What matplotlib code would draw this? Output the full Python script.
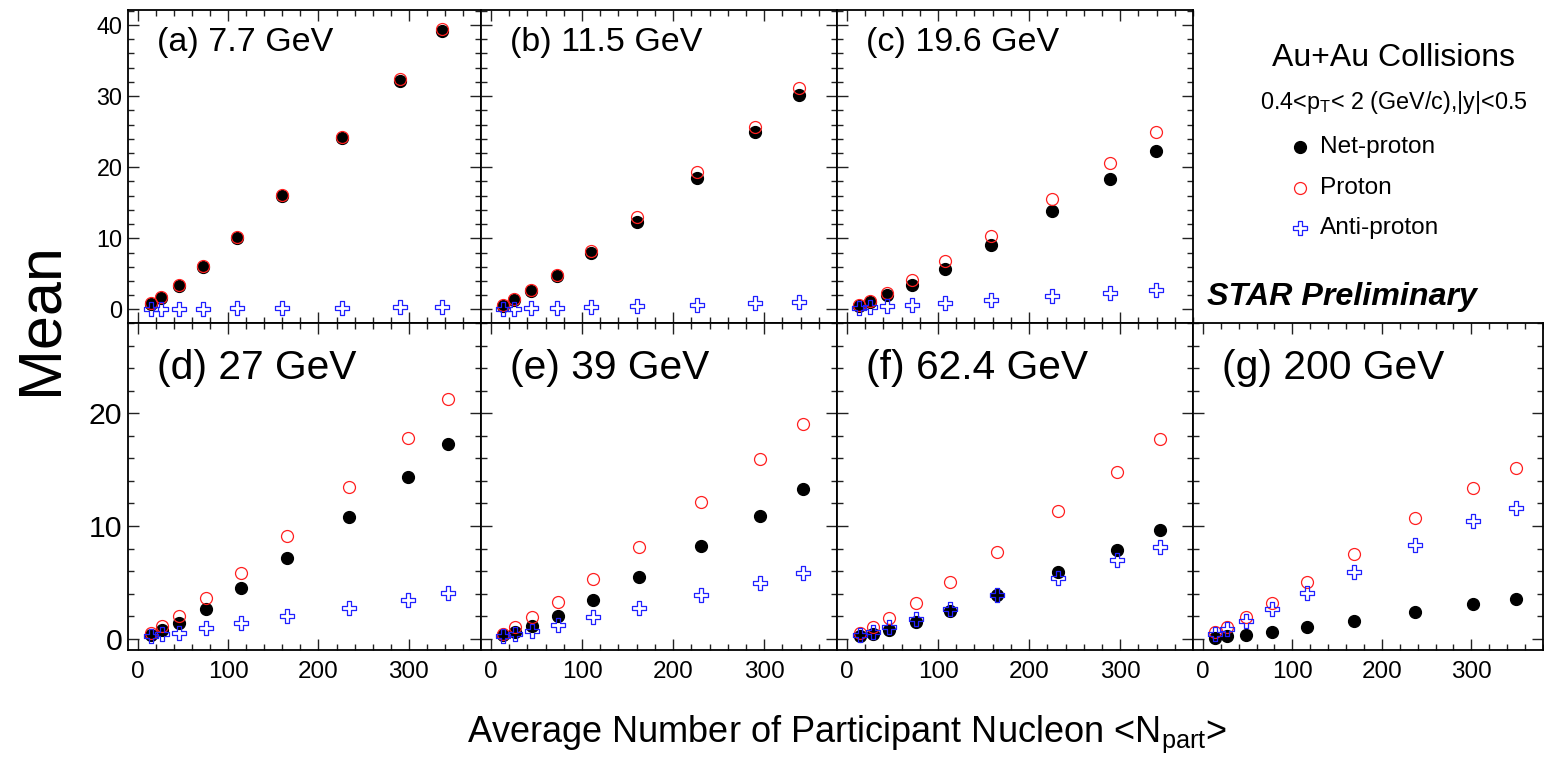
import matplotlib
matplotlib.use("Agg")
import matplotlib.pyplot as plt
from matplotlib.path import Path
from matplotlib.ticker import MultipleLocator

plt.rcParams["font.family"] = ["Liberation Sans", "DejaVu Sans"]
plt.rcParams["mathtext.fontset"] = "custom"
plt.rcParams["mathtext.rm"] = "Liberation Sans"
plt.rcParams["mathtext.it"] = "Liberation Sans:italic"

# data
labels = ["(a) 7.7 GeV", "(b) 11.5 GeV", "(c) 19.6 GeV", "(d) 27 GeV",
          "(e) 39 GeV", "(f) 62.4 GeV", "(g) 200 GeV"]

npart = [
    [14, 26, 45, 72, 110, 160, 226, 290, 337],
    [13, 25, 44, 72, 110, 160, 226, 290, 338],
    [13, 25, 44, 71, 108, 158, 225, 289, 339],
    [14, 27, 46, 75, 114, 165, 234, 299, 343],
    [13, 26, 45, 74, 112, 163, 231, 295, 343],
    [14, 28, 46, 76, 113, 165, 232, 297, 344],
    [14, 27, 48, 77, 116, 169, 237, 302, 350],
]
net_proton = [
    [0.75, 1.6, 3.27, 6.0, 10.1, 16.0, 24.1, 32.1, 39.1],
    [0.56, 1.36, 2.57, 4.67, 7.9, 12.3, 18.5, 24.9, 30.2],
    [0.42, 1.0, 2.0, 3.46, 5.75, 9.0, 13.8, 18.3, 22.3],
    [0.35, 0.75, 1.42, 2.66, 4.5, 7.16, 10.8, 14.3, 17.3],
    [0.3, 0.62, 1.15, 2.04, 3.4, 5.44, 8.2, 10.9, 13.3],
    [0.27, 0.44, 0.8, 1.45, 2.43, 3.9, 5.95, 7.9, 9.6],
    [0.1, 0.2, 0.36, 0.6, 1.05, 1.6, 2.37, 3.08, 3.55],
]
proton = [
    [0.85, 1.7, 3.4, 6.1, 10.2, 16.1, 24.3, 32.35, 39.4],
    [0.65, 1.5, 2.76, 4.85, 8.2, 13.0, 19.3, 25.7, 31.2],
    [0.6, 1.25, 2.38, 4.1, 6.75, 10.4, 15.5, 20.6, 25.0],
    [0.5, 1.1, 2.04, 3.6, 5.86, 9.1, 13.46, 17.8, 21.3],
    [0.44, 1.0, 1.92, 3.25, 5.3, 8.1, 12.1, 15.9, 19.05],
    [0.55, 1.0, 1.8, 3.2, 5.0, 7.7, 11.3, 14.8, 17.7],
    [0.6, 1.07, 1.9, 3.2, 5.05, 7.55, 10.7, 13.4, 15.1],
]
anti_proton = [
    [0.03, 0.05, 0.08, 0.12, 0.16, 0.2, 0.25, 0.3, 0.35],
    [0.08, 0.12, 0.17, 0.22, 0.32, 0.5, 0.7, 0.85, 1.03],
    [0.18, 0.3, 0.42, 0.6, 0.98, 1.36, 1.9, 2.3, 2.75],
    [0.2, 0.4, 0.55, 0.95, 1.36, 1.98, 2.75, 3.46, 4.02],
    [0.22, 0.42, 0.7, 1.24, 1.92, 2.75, 3.88, 4.94, 5.83],
    [0.3, 0.58, 1.0, 1.75, 2.6, 3.85, 5.35, 6.95, 8.1],
    [0.45, 0.86, 1.6, 2.65, 4.05, 5.95, 8.35, 10.4, 11.6],
]

# open cross marker (ROOT style 28)
w = 0.35
cross_verts = [(-w, -1), (w, -1), (w, -w), (1, -w), (1, w), (w, w), (w, 1),
               (-w, 1), (-w, w), (-1, w), (-1, -w), (-w, -w), (-w, -1)]
open_cross = Path(cross_verts, closed=True)

W, H = 1544, 765
fig = plt.figure(figsize=(W / 100, H / 100), dpi=100)

# panel edges in pixels
cols = [(128, 481), (481, 837), (837, 1193), (1193, 1543)]
rows = [(10, 323), (323, 650)]
slots = [(0, 0), (0, 1), (0, 2), (1, 0), (1, 1), (1, 2), (1, 3)]


def add_px_axes(l, t, r, b):
    return fig.add_axes([l / W, 1 - b / H, (r - l) / W, (b - t) / H])


for i, (row, col) in enumerate(slots):
    l, r = cols[col]
    t, b = rows[row]
    ax = add_px_axes(l, t, r, b)
    x = npart[i]
    ax.plot(x, net_proton[i], "o", color="black", ms=8.5, ls="none", zorder=3)
    ax.plot(x, proton[i], "o", mfc="none", mec="#ff2020", mew=0.9, ms=8.6,
            ls="none", zorder=4)
    ax.plot(x, anti_proton[i], marker=open_cross, mfc="none", mec="#2020ff",
            mew=0.9, ms=9.4, ls="none", zorder=5)

    ax.set_xlim(-11, 380)
    if row == 0:
        ax.set_ylim(-1.9, 42.1)
        ysize, lsize, ly = 16.8, 24.5, -33
    else:
        ax.set_ylim(-1.0, 28.0)
        ysize, lsize, ly = 21.8, 29.3, -45
    ax.xaxis.set_major_locator(MultipleLocator(100))
    ax.xaxis.set_minor_locator(MultipleLocator(20))
    ax.yaxis.set_major_locator(MultipleLocator(10))
    ax.yaxis.set_minor_locator(MultipleLocator(2))
    ax.tick_params(which="both", direction="in", top=True, right=True,
                   width=1.0, color="#222222")
    ax.tick_params(which="major", length=8)
    ax.tick_params(which="minor", length=4.5)
    ax.tick_params(axis="y", labelsize=ysize, pad=4)
    ax.tick_params(axis="x", labelsize=17.5, pad=8)
    for s in ax.spines.values():
        s.set_linewidth(1.3)
    if col != 0:
        ax.set_yticklabels([])
    if row == 0:
        ax.set_xticklabels([])
    ax.annotate(labels[i], xy=(0, 1), xycoords="axes fraction",
                xytext=(29, ly), textcoords="offset pixels",
                fontsize=lsize, va="center", ha="left")

# header and legend in the empty top-right slot (pixel coordinates)
leg = add_px_axes(cols[3][0], rows[0][0], cols[3][1], rows[0][1])
leg.set_axis_off()
leg.set_xlim(cols[3][0], cols[3][1])
leg.set_ylim(rows[0][1], rows[0][0])
leg.text(1394, 58, "Au+Au Collisions", fontsize=23, ha="center", va="center")
leg.text(1394, 103, r"0.4<$\mathrm{p}_{\mathrm{T}}$< 2 (GeV/c),|y|<0.5",
         fontsize=16.8, ha="center", va="center")
leg.plot([1300], [147], "o", color="black", ms=8.5)
leg.plot([1300], [188], "o", mfc="none", mec="#ff2020", mew=0.9, ms=8.6)
leg.plot([1300], [228], marker=open_cross, mfc="none", mec="#2020ff",
         mew=0.9, ms=9.4)
leg.text(1320, 147, "Net-proton", fontsize=17.6, ha="left", va="center")
leg.text(1320, 188, "Proton", fontsize=17.6, ha="left", va="center")
leg.text(1320, 228, "Anti-proton", fontsize=17.6, ha="left", va="center")
leg.text(1207, 297, "STAR Preliminary", fontsize=23.2, fontweight="bold",
         fontstyle="italic", ha="left", va="center")

fig.text(41 / W, 1 - 319 / H, "Mean", rotation=90, fontsize=44,
         ha="center", va="center")
fig.text(847 / W, 1 - 742 / H,
         r"Average Number of Participant Nucleon <$\mathrm{N}_{\mathrm{part}}$>",
         fontsize=26, ha="center", va="baseline")

fig.savefig("out.png", dpi=100)
